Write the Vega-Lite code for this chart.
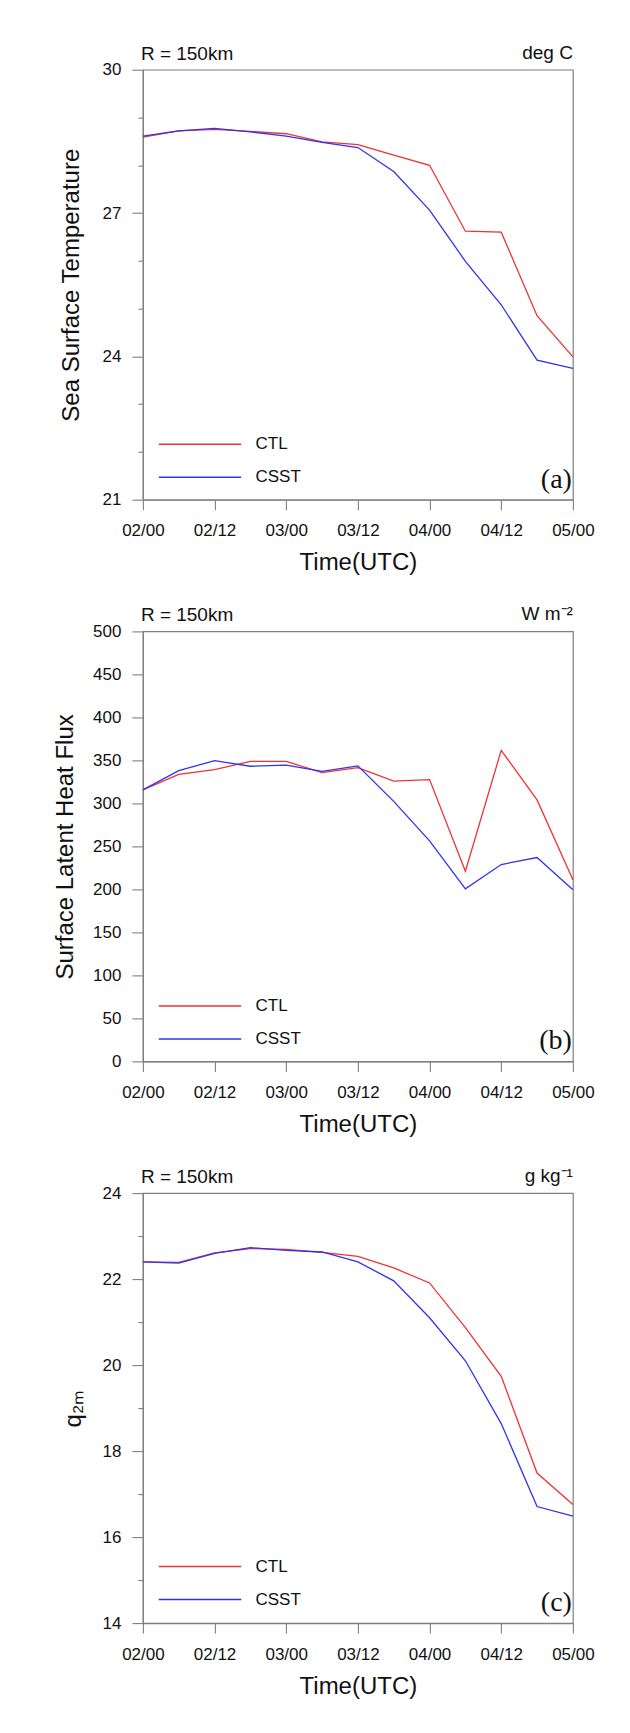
{
  "$schema": "https://vega.github.io/schema/vega-lite/v6.json",
  "padding": {"left": 51.9, "top": 42.7, "right": 10, "bottom": 10},
  "background": "white",
  "datasets": {
    "sst": [
      {"hour": 0, "series": "CTL", "value": 28.59}, {"hour": 6, "series": "CTL", "value": 28.72}, {"hour": 12, "series": "CTL", "value": 28.75},
      {"hour": 18, "series": "CTL", "value": 28.71}, {"hour": 24, "series": "CTL", "value": 28.66}, {"hour": 30, "series": "CTL", "value": 28.49},
      {"hour": 36, "series": "CTL", "value": 28.43}, {"hour": 42, "series": "CTL", "value": 28.21}, {"hour": 48, "series": "CTL", "value": 28.0},
      {"hour": 54, "series": "CTL", "value": 26.62}, {"hour": 60, "series": "CTL", "value": 26.6}, {"hour": 66, "series": "CTL", "value": 24.85},
      {"hour": 72, "series": "CTL", "value": 23.99},
      {"hour": 0, "series": "CSST", "value": 28.61}, {"hour": 6, "series": "CSST", "value": 28.72}, {"hour": 12, "series": "CSST", "value": 28.77},
      {"hour": 18, "series": "CSST", "value": 28.7}, {"hour": 24, "series": "CSST", "value": 28.61}, {"hour": 30, "series": "CSST", "value": 28.48},
      {"hour": 36, "series": "CSST", "value": 28.37}, {"hour": 42, "series": "CSST", "value": 27.87}, {"hour": 48, "series": "CSST", "value": 27.06},
      {"hour": 54, "series": "CSST", "value": 25.99}, {"hour": 60, "series": "CSST", "value": 25.08}, {"hour": 66, "series": "CSST", "value": 23.92},
      {"hour": 72, "series": "CSST", "value": 23.75}
    ],
    "lhf": [
      {"hour": 0, "series": "CTL", "value": 315.7}, {"hour": 6, "series": "CTL", "value": 333.8}, {"hour": 12, "series": "CTL", "value": 339.3},
      {"hour": 18, "series": "CTL", "value": 348.8}, {"hour": 24, "series": "CTL", "value": 348.8}, {"hour": 30, "series": "CTL", "value": 335.9},
      {"hour": 36, "series": "CTL", "value": 341.5}, {"hour": 42, "series": "CTL", "value": 326.0}, {"hour": 48, "series": "CTL", "value": 327.7},
      {"hour": 54, "series": "CTL", "value": 221.2}, {"hour": 60, "series": "CTL", "value": 361.7}, {"hour": 66, "series": "CTL", "value": 304.1},
      {"hour": 72, "series": "CTL", "value": 211.3},
      {"hour": 0, "series": "CSST", "value": 315.7}, {"hour": 6, "series": "CSST", "value": 338.0}, {"hour": 12, "series": "CSST", "value": 349.7},
      {"hour": 18, "series": "CSST", "value": 343.2}, {"hour": 24, "series": "CSST", "value": 344.5}, {"hour": 30, "series": "CSST", "value": 337.2},
      {"hour": 36, "series": "CSST", "value": 343.6}, {"hour": 42, "series": "CSST", "value": 302.4}, {"hour": 48, "series": "CSST", "value": 256.4},
      {"hour": 54, "series": "CSST", "value": 200.6}, {"hour": 60, "series": "CSST", "value": 228.9}, {"hour": 66, "series": "CSST", "value": 237.1},
      {"hour": 72, "series": "CSST", "value": 199.7}
    ],
    "q2m": [
      {"hour": 0, "series": "CTL", "value": 22.4}, {"hour": 6, "series": "CTL", "value": 22.39}, {"hour": 12, "series": "CTL", "value": 22.61},
      {"hour": 18, "series": "CTL", "value": 22.71}, {"hour": 24, "series": "CTL", "value": 22.69}, {"hour": 30, "series": "CTL", "value": 22.62},
      {"hour": 36, "series": "CTL", "value": 22.53}, {"hour": 42, "series": "CTL", "value": 22.26}, {"hour": 48, "series": "CTL", "value": 21.91},
      {"hour": 54, "series": "CTL", "value": 20.87}, {"hour": 60, "series": "CTL", "value": 19.74}, {"hour": 66, "series": "CTL", "value": 17.49},
      {"hour": 72, "series": "CTL", "value": 16.76},
      {"hour": 0, "series": "CSST", "value": 22.4}, {"hour": 6, "series": "CSST", "value": 22.37}, {"hour": 12, "series": "CSST", "value": 22.6},
      {"hour": 18, "series": "CSST", "value": 22.73}, {"hour": 24, "series": "CSST", "value": 22.67}, {"hour": 30, "series": "CSST", "value": 22.63},
      {"hour": 36, "series": "CSST", "value": 22.4}, {"hour": 42, "series": "CSST", "value": 21.96}, {"hour": 48, "series": "CSST", "value": 21.1},
      {"hour": 54, "series": "CSST", "value": 20.1}, {"hour": 60, "series": "CSST", "value": 18.64}, {"hour": 66, "series": "CSST", "value": 16.71},
      {"hour": 72, "series": "CSST", "value": 16.49}
    ]
  },
  "vconcat": [
    {
      "width": 430, "height": 430,
      "data": {"name": "sst"},
      "layer": [
        {
          "mark": {"type": "line", "strokeWidth": 1.3},
          "encoding": {
            "x": {"field": "hour", "type": "quantitative", "scale": {"domain": [0, 72], "nice": false, "zero": false},
              "axis": {"title": "Time(UTC)", "values": [0, 6, 12, 18, 24, 30, 36, 42, 48, 54, 60, 66, 72],
                "labelExpr": "datum.value % 12 ? '' : '0' + (2 + floor(datum.value / 24)) + '/' + (datum.value % 24 ? '12' : '00')",
                "tickSize": {"condition": {"test": "datum.value % 12 == 0", "value": 10}, "value": 5},
                "labelPadding": 13, "titleY": 70, "titleBaseline": "alphabetic"}},
            "y": {"field": "value", "type": "quantitative", "scale": {"domain": [21, 30], "nice": false, "zero": false},
              "axis": {"title": "Sea Surface Temperature", "values": [21, 22, 23, 24, 25, 26, 27, 28, 29, 30],
                "labelExpr": "(datum.value - 21) % 3 ? '' : datum.label",
                "tickSize": {"condition": {"test": "(datum.value - 21) % 3 == 0", "value": 11}, "value": 5},
                "labelPadding": 11, "titleX": -71.7, "titleBaseline": "middle"}},
            "color": {"field": "series", "type": "nominal", "sort": ["CTL", "CSST"],
              "scale": {"domain": ["CTL", "CSST"], "range": ["#f03232", "#3232f0"]},
              "legend": {"title": null, "orient": "none", "legendX": 48.6, "legendY": 366}}
          }
        },
        {
          "data": {"values": [{"label": "R = 150km"}]},
          "mark": {"type": "text", "align": "left", "baseline": "alphabetic", "fontSize": 19, "dx": -2, "dy": -10, "color": "#111"},
          "encoding": {"x": {"datum": 0}, "y": {"datum": 30}, "text": {"field": "label"}}
        },
        {
          "data": {"values": [{"label": "deg C"}]},
          "mark": {"type": "text", "align": "right", "baseline": "alphabetic", "fontSize": 19, "dx": 0, "dy": -11, "color": "#111"},
          "encoding": {"x": {"datum": 72}, "y": {"datum": 30}, "text": {"field": "label"}}
        },
        {
          "data": {"values": [{"label": "(a)"}]},
          "mark": {"type": "text", "align": "right", "baseline": "alphabetic", "font": "Liberation Serif", "fontSize": 28, "dx": -1, "dy": -12, "color": "#111"},
          "encoding": {"x": {"datum": 72}, "y": {"datum": 21}, "text": {"field": "label"}}
        }
      ]
    },
    {
      "width": 430, "height": 430,
      "data": {"name": "lhf"},
      "layer": [
        {
          "mark": {"type": "line", "strokeWidth": 1.3},
          "encoding": {
            "x": {"field": "hour", "type": "quantitative", "scale": {"domain": [0, 72], "nice": false, "zero": false},
              "axis": {"title": "Time(UTC)", "values": [0, 6, 12, 18, 24, 30, 36, 42, 48, 54, 60, 66, 72],
                "labelExpr": "datum.value % 12 ? '' : '0' + (2 + floor(datum.value / 24)) + '/' + (datum.value % 24 ? '12' : '00')",
                "tickSize": {"condition": {"test": "datum.value % 12 == 0", "value": 10}, "value": 5},
                "labelPadding": 13, "titleY": 70, "titleBaseline": "alphabetic"}},
            "y": {"field": "value", "type": "quantitative", "scale": {"domain": [0, 500], "nice": false, "zero": false},
              "axis": {"title": "Surface Latent Heat Flux", "values": [0, 25, 50, 75, 100, 125, 150, 175, 200, 225, 250, 275, 300, 325, 350, 375, 400, 425, 450, 475, 500],
                "labelExpr": "datum.value % 50 ? '' : datum.label",
                "tickSize": {"condition": {"test": "datum.value % 50 == 0", "value": 11}, "value": 5},
                "labelPadding": 11, "titleX": -77.8, "titleBaseline": "middle"}},
            "color": {"field": "series", "type": "nominal", "sort": ["CTL", "CSST"],
              "scale": {"domain": ["CTL", "CSST"], "range": ["#f03232", "#3232f0"]},
              "legend": {"title": null, "orient": "none", "legendX": 48.6, "legendY": 366}}
          }
        },
        {
          "data": {"values": [{"label": "R = 150km"}]},
          "mark": {"type": "text", "align": "left", "baseline": "alphabetic", "fontSize": 19, "dx": -2, "dy": -10, "color": "#111"},
          "encoding": {"x": {"datum": 0}, "y": {"datum": 500}, "text": {"field": "label"}}
        },
        {
          "data": {"values": [{"label": "W m⁻²"}]},
          "mark": {"type": "text", "align": "right", "baseline": "alphabetic", "fontSize": 19, "dx": 0, "dy": -11, "color": "#111"},
          "encoding": {"x": {"datum": 72}, "y": {"datum": 500}, "text": {"field": "label"}}
        },
        {
          "data": {"values": [{"label": "(b)"}]},
          "mark": {"type": "text", "align": "right", "baseline": "alphabetic", "font": "Liberation Serif", "fontSize": 28, "dx": -1, "dy": -12, "color": "#111"},
          "encoding": {"x": {"datum": 72}, "y": {"datum": 0}, "text": {"field": "label"}}
        }
      ]
    },
    {
      "width": 430, "height": 430,
      "data": {"name": "q2m"},
      "layer": [
        {
          "mark": {"type": "line", "strokeWidth": 1.3},
          "encoding": {
            "x": {"field": "hour", "type": "quantitative", "scale": {"domain": [0, 72], "nice": false, "zero": false},
              "axis": {"title": "Time(UTC)", "values": [0, 6, 12, 18, 24, 30, 36, 42, 48, 54, 60, 66, 72],
                "labelExpr": "datum.value % 12 ? '' : '0' + (2 + floor(datum.value / 24)) + '/' + (datum.value % 24 ? '12' : '00')",
                "tickSize": {"condition": {"test": "datum.value % 12 == 0", "value": 10}, "value": 5},
                "labelPadding": 13, "titleY": 70, "titleBaseline": "alphabetic"}},
            "y": {"field": "value", "type": "quantitative", "scale": {"domain": [14, 24], "nice": false, "zero": false},
              "axis": {"title": "q₂ₘ", "values": [14, 15, 16, 17, 18, 19, 20, 21, 22, 23, 24],
                "labelExpr": "datum.value % 2 ? '' : datum.label",
                "tickSize": {"condition": {"test": "datum.value % 2 == 0", "value": 11}, "value": 5},
                "labelPadding": 11, "titleX": -69.7, "titleBaseline": "middle"}},
            "color": {"field": "series", "type": "nominal", "sort": ["CTL", "CSST"],
              "scale": {"domain": ["CTL", "CSST"], "range": ["#f03232", "#3232f0"]},
              "legend": {"title": null, "orient": "none", "legendX": 48.6, "legendY": 365}}
          }
        },
        {
          "data": {"values": [{"label": "R = 150km"}]},
          "mark": {"type": "text", "align": "left", "baseline": "alphabetic", "fontSize": 19, "dx": -2, "dy": -10, "color": "#111"},
          "encoding": {"x": {"datum": 0}, "y": {"datum": 24}, "text": {"field": "label"}}
        },
        {
          "data": {"values": [{"label": "g kg⁻¹"}]},
          "mark": {"type": "text", "align": "right", "baseline": "alphabetic", "fontSize": 19, "dx": 0, "dy": -11, "color": "#111"},
          "encoding": {"x": {"datum": 72}, "y": {"datum": 24}, "text": {"field": "label"}}
        },
        {
          "data": {"values": [{"label": "(c)"}]},
          "mark": {"type": "text", "align": "right", "baseline": "alphabetic", "font": "Liberation Serif", "fontSize": 28, "dx": -1, "dy": -12, "color": "#111"},
          "encoding": {"x": {"datum": 72}, "y": {"datum": 14}, "text": {"field": "label"}}
        }
      ]
    }
  ],
  "spacing": 131.7,
  "bounds": "flush",
  "resolve": {"scale": {"color": "independent"}, "legend": {"color": "independent"}},
  "config": {
    "font": "Liberation Sans",
    "view": {"stroke": "#7f7f7f", "strokeWidth": 1.2},
    "axis": {
      "domainColor": "#7f7f7f", "domainWidth": 1.2, "tickColor": "#7f7f7f", "tickWidth": 1.1,
      "labelFont": "Liberation Sans", "labelFontSize": 17, "labelColor": "#111",
      "titleFont": "Liberation Sans", "titleFontSize": 24, "titleFontWeight": "normal", "titleColor": "#111",
      "grid": false, "labelOverlap": false, "labelFlush": false, "labelBound": false
    },
    "legend": {
      "symbolType": "M-10,0H10", "symbolSize": 68, "symbolStrokeWidth": 1.5,
      "labelFont": "Liberation Sans", "labelFontSize": 17, "labelColor": "#111",
      "labelOffset": 47, "rowPadding": 15, "padding": 0
    }
  }
}
